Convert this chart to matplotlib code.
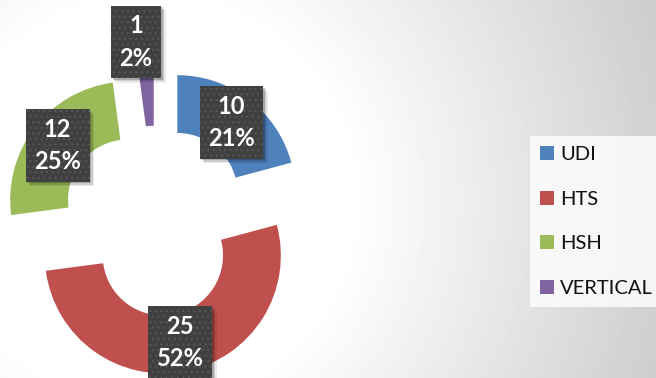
import matplotlib
matplotlib.use('Agg')
import matplotlib.pyplot as plt
import matplotlib.colors as mcolors
from matplotlib.patches import Rectangle
from matplotlib.transforms import IdentityTransform
import numpy as np

# data
labels = ['UDI', 'HTS', 'HSH', 'VERTICAL']
values = [10, 25, 12, 1]
colors = ['#4F81BD', '#C0504D', '#9BBB59', '#8064A2']

W, H = 656, 378
scale = 118.0          # pixels per unit radius
cx, cy = 156, 221      # ring centre in pixels (from top-left)

plt.rcParams['font.family'] = ['Lato', 'DejaVu Sans']
plt.rcParams['hatch.linewidth'] = 0.6


def main():
    fig = plt.figure(figsize=(W / 100, H / 100), dpi=100)
    ax = fig.add_axes([0, 0, 1, 1])
    x0, x1 = -cx / scale, (W - cx) / scale
    y0, y1 = -(H - cy) / scale, cy / scale

    # radial grey background
    yy, xx = np.mgrid[0:H, 0:W]
    d = np.hypot(xx - 150, yy - 200)
    t = np.clip((d - 200) / 360.0, 0, 1)
    bg = 1 - 0.21 * t
    ax.imshow(bg, cmap='gray', vmin=0, vmax=1, extent=(x0, x1, y0, y1),
              origin='upper', zorder=0, interpolation='bilinear')

    total = sum(values)

    def fmt(p):
        return '%d\n%.0f%%' % (round(p * total / 100.0), p)

    wedges, texts, autotexts = ax.pie(
        values, colors=colors, startangle=90, counterclock=False,
        radius=1, explode=[0.297] * len(values), pctdistance=0.754,
        autopct=fmt, wedgeprops=dict(width=0.49, edgecolor='none'),
        textprops=dict(color='white', fontsize=17, fontweight='bold'))

    for w in wedges:
        w.set_zorder(2)

    # the small slice label was dragged up above the ring
    autotexts[3].set_position(((136 - cx) / scale, (cy - 42) / scale))

    for at in autotexts:
        at.set_linespacing(1.5)
        at.set_zorder(6)
        at.set_bbox(dict(boxstyle='square,pad=0.36', facecolor='#404040',
                         edgecolor='none', hatch='...'))
        at.get_bbox_patch()._hatch_color = mcolors.to_rgba('#5c5c5c')

    leg = ax.legend(wedges, labels, loc='center left',
                    bbox_to_anchor=(530 / W, 1 - 221.5 / H),
                    bbox_transform=fig.transFigure, frameon=True,
                    fancybox=False, fontsize=14.5, handlelength=0.7,
                    handleheight=0.7, handletextpad=0.3, labelspacing=1.37,
                    borderpad=0.5, borderaxespad=0)
    leg.get_frame().set_facecolor((1, 1, 1, 0.25))
    leg.get_frame().set_edgecolor('none')
    for txt in leg.get_texts():
        txt.set_color('#111111')

    ax.set_xlim(x0, x1)
    ax.set_ylim(y0, y1)
    ax.set_aspect('auto')
    ax.axis('off')

    # soft drop shadow behind each label box
    fig.canvas.draw()
    rend = fig.canvas.get_renderer()
    for at in autotexts:
        bb = at.get_bbox_patch().get_window_extent(rend)
        for k, (off, a) in enumerate([(1.5, 0.18), (3, 0.13), (4.5, 0.08)]):
            ax.add_patch(Rectangle((bb.x0 + off, bb.y0 - off), bb.width,
                                   bb.height, transform=IdentityTransform(),
                                   facecolor='black', edgecolor='none',
                                   alpha=a, zorder=5 - k * 0.1))

    fig.savefig('out.png', dpi=100)


if __name__ == '__main__':
    main()
